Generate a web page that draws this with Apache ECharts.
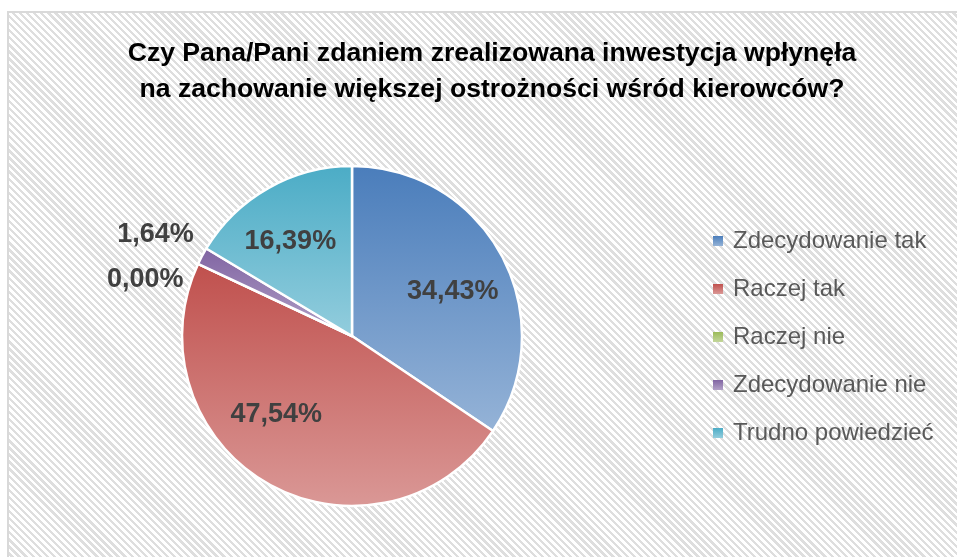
<!DOCTYPE html>
<html>
<head>
<meta charset="utf-8">
<script src="https://cdn.jsdelivr.net/npm/echarts@6/dist/echarts.min.js"></script>
<style>
  html, body { margin: 0; padding: 0; background: #fff; overflow: hidden; }
  #frame {
    position: absolute; left: 7px; top: 11px; width: 960px; height: 560px;
    border: 2px solid #d9d9d9;
    background: repeating-linear-gradient(45deg, #ffffff 0px, #ffffff 2.6px, #dedede 2.6px, #dedede 5px);
  }
  #main { position: absolute; left: 0; top: 0; width: 957px; height: 557px; }
</style>
</head>
<body>
<div id="frame"></div>
<div id="main"></div>
<script>
var categories = ['Zdecydowanie tak', 'Raczej tak', 'Raczej nie', 'Zdecydowanie nie', 'Trudno powiedzieć'];
var percents = [34.43, 47.54, 0.00, 1.64, 16.39];
var colorTop = ['#4a7dbb', '#c0504d', '#9bbb59', '#8064a2', '#4bacc6'];
var colorBottom = ['#95b3d7', '#da9896', '#c3d69b', '#b2a1c7', '#93cddd'];
var titleText = 'Czy Pana/Pani zdaniem zrealizowana inwestycja wpłynęła\nna zachowanie większej ostrożności wśród kierowców?';

var FONT = '"Liberation Sans", Arial, sans-serif';
var chart = echarts.init(document.getElementById('main'));

var pieData = categories.map(function (name, i) {
  return {
    name: name,
    value: percents[i],
    itemStyle: {
      color: new echarts.graphic.LinearGradient(0, 0, 0, 1, [
        { offset: 0, color: colorTop[i] },
        { offset: 1, color: colorBottom[i] }
      ])
    }
  };
});

// nudges so the labels sit where excel's best fit put them
var labelNudge = [[1, 9], [-20, -20], [4, 22], [10, -14], [-6, 4]];

// second (invisible) series only carries the labels
var labelData = categories.map(function (name, i) {
  var small = percents[i] < 5;
  return {
    name: name,
    value: percents[i],
    label: { position: small ? 'outside' : 'inside', offset: labelNudge[i] }
  };
});

var option = {
  backgroundColor: 'transparent',
  title: {
    text: titleText,
    left: 492,
    textAlign: 'center',
    top: 36,
    padding: 0,
    textStyle: {
      fontFamily: FONT,
      fontWeight: 'bold',
      fontSize: 26.6,
      lineHeight: 36,
      color: '#000'
    }
  },
  legend: {
    orient: 'vertical',
    left: 713,
    top: 228,
    padding: 0,
    itemWidth: 10,
    itemHeight: 10,
    itemGap: 22,
    icon: 'rect',
    itemStyle: { borderWidth: 0 },
    data: categories,
    textStyle: {
      fontFamily: FONT,
      fontSize: 24,
      lineHeight: 26,
      padding: [0, 0, 0, 5],
      color: '#595959'
    }
  },
  series: [
    {
      name: 'pie',
      type: 'pie',
      center: [352, 336],
      radius: [0, 170],
      startAngle: 90,
      clockwise: true,
      label: { show: false },
      labelLine: { show: false },
      itemStyle: { borderColor: '#fff', borderWidth: 2.5 },
      emphasis: { disabled: true },
      data: pieData
    },
    {
      name: 'labels',
      type: 'pie',
      center: [352, 336],
      radius: [50, 170],
      startAngle: 90,
      clockwise: true,
      silent: true,
      avoidLabelOverlap: false,
      itemStyle: { color: 'rgba(0,0,0,0)' },
      labelLine: { show: false, length: 15, length2: 0 },
      label: {
        show: true,
        formatter: function (p) { return p.value.toFixed(2).replace('.', ',') + '%'; },
        fontFamily: FONT,
        fontWeight: 'bold',
        fontSize: 27,
        color: '#404040'
      },
      emphasis: { disabled: true },
      data: labelData
    }
  ]
};
chart.setOption(option);
</script>
</body>
</html>
